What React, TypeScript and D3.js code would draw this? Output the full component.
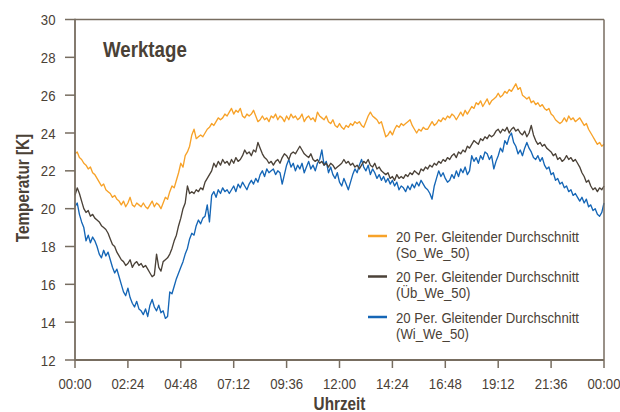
import * as d3 from 'd3'

// one value every 6 minutes, 00:00 .. 24:00 (241 points)
const stepMinutes = 6

const soWe50 = [
  22.9, 23.0, 22.7, 22.6, 22.4, 22.3, 22.1, 22.2, 21.9, 21.8,
  21.6, 21.4, 21.2, 21.3, 21.0, 20.9, 20.8, 20.6, 20.7, 20.5,
  20.4, 20.2, 20.4, 20.1, 20.3, 20.6, 20.2, 20.1, 20.3, 20.2,
  20.1, 20.3, 20.1, 20.0, 20.2, 20.4, 20.1, 20.3, 20.2, 20.0,
  20.3, 20.6, 20.5, 20.9, 21.2, 21.1, 21.5, 21.9, 22.4, 22.2,
  22.8, 23.0, 23.3, 23.9, 24.2, 23.7, 23.8, 23.9, 23.8, 24.0,
  24.2, 24.3, 24.5, 24.4, 24.6, 24.8, 24.7, 24.8, 25.0, 24.9,
  25.1, 25.3, 25.0, 25.2, 25.1, 25.3, 24.9, 24.8, 25.0, 24.9,
  25.0, 25.2, 24.9, 24.6, 24.7, 24.9, 24.7, 24.8, 24.6, 24.9,
  24.8, 25.0, 24.7, 24.9, 24.8, 24.6, 24.9, 24.7, 25.0, 24.8,
  24.9, 24.7, 24.8, 25.0, 24.6, 24.8, 24.9, 24.7, 24.8, 24.6,
  25.1, 24.9, 24.8, 24.7, 24.9, 24.6, 24.5, 24.7, 24.4, 24.3,
  24.5, 24.3, 24.2, 24.4, 24.3, 24.5, 24.4, 24.6, 24.5, 24.6,
  24.4, 24.3, 24.6, 24.9, 25.1, 24.9, 24.8, 24.7, 24.5, 24.6,
  24.2, 23.8, 23.9, 24.1, 23.9, 24.2, 24.4, 24.3, 24.5, 24.4,
  24.5, 24.6, 24.7, 24.4, 24.2, 24.0, 24.2, 24.1, 24.3, 24.2,
  24.2, 24.4, 24.6, 24.4, 24.5, 24.7, 24.6, 24.8, 24.7, 24.9,
  24.8, 25.0, 24.9, 24.7, 24.9, 25.1, 24.9, 25.2, 25.0, 25.2,
  25.4, 25.3, 25.6, 25.5, 25.7, 25.4, 25.6, 25.8, 25.5, 25.7,
  25.8, 25.9, 26.1, 25.9, 26.0, 26.2, 26.1, 26.3, 26.2, 26.4,
  26.6, 26.3, 26.4, 26.0, 25.9, 25.8, 25.9, 25.6, 25.7, 25.5,
  25.6, 25.4, 25.5, 25.3, 25.2, 25.3, 25.0, 24.9, 24.7, 24.6,
  24.5, 24.6, 24.8, 24.6, 24.9, 24.7, 24.8, 24.6, 24.7, 24.8,
  24.6, 24.4, 24.5, 24.2, 24.0, 23.8, 23.6, 23.4, 23.5, 23.3,
  23.4,
]

const ubWe50 = [
  20.7, 21.1, 20.8, 20.4, 20.0, 19.8, 19.9, 19.6, 19.7, 19.5,
  19.4, 19.3, 19.1, 19.0, 18.9, 18.7, 18.4, 18.1, 18.0, 17.7,
  17.5, 17.3, 17.2, 17.0, 17.1, 17.3, 16.9, 17.1, 17.2, 17.0,
  17.1, 16.9, 17.0, 16.8, 16.6, 16.4, 16.5, 17.6, 16.9, 16.7,
  17.2, 17.3, 17.4, 17.6, 17.9, 18.3, 18.6, 19.1, 19.5, 20.0,
  20.3, 21.2, 20.8, 20.9, 20.8, 21.0, 20.9, 21.1, 21.0, 21.4,
  21.6, 21.8, 22.0, 22.4, 22.2, 22.5, 22.3, 22.6, 22.4, 22.5,
  22.3, 22.6, 22.4, 22.7, 22.5, 22.6, 22.8, 23.1, 22.9, 23.0,
  22.8, 23.1, 23.0, 23.5, 23.2, 22.9, 22.7, 22.6, 22.4, 22.5,
  22.3, 22.5, 22.6, 22.4, 22.7, 22.9, 22.8, 22.6, 22.9, 23.0,
  22.9, 23.1, 23.3, 23.1, 22.9, 22.8, 22.7, 22.9, 22.6, 22.5,
  22.6, 22.4, 22.5, 22.3, 22.4, 22.2, 22.4, 22.3, 22.1, 22.2,
  22.3, 22.4, 22.6, 22.4, 22.5, 22.3, 22.4, 22.2, 22.3, 22.1,
  22.3, 22.5, 22.4, 22.6, 22.3, 22.2, 22.4, 22.1, 22.2, 22.0,
  21.9, 21.8, 21.9, 21.6, 21.7, 21.5, 21.8, 21.6, 21.7, 21.6,
  21.8, 21.7, 21.9, 21.8, 22.0, 21.9, 21.8, 22.1, 22.0, 22.2,
  22.1, 22.3, 22.2, 22.4, 22.3, 22.5, 22.4, 22.6, 22.5, 22.7,
  22.6, 22.8, 22.9, 22.7, 23.0, 22.9, 23.1, 23.0, 23.3, 23.2,
  23.4, 23.6, 23.5, 23.4, 23.7, 23.6, 23.8, 23.7, 23.9, 23.8,
  23.9, 24.1, 24.2, 24.0, 24.2, 24.1, 24.3, 24.0, 24.2, 24.3,
  24.1, 24.2, 24.0, 23.9, 24.1, 23.8, 24.0, 24.4, 23.9, 23.6,
  23.4, 23.5, 23.3, 23.4, 23.2, 23.1, 23.0, 22.8, 22.9, 22.6,
  22.7, 22.5, 22.6, 22.8, 22.6, 22.7, 22.5, 22.6, 22.4, 22.2,
  21.9, 21.7, 21.4, 21.5, 21.2, 21.0, 21.1, 20.9, 21.1, 21.0,
  21.2,
]

const wiWe50 = [
  20.1, 20.3, 19.7, 19.3, 19.0, 18.3, 18.6, 18.2, 18.5, 18.3,
  18.0, 17.6, 17.4, 17.8, 17.5, 17.7, 17.3, 16.9, 16.6, 16.8,
  16.4, 16.0, 15.6, 15.4, 15.8, 15.3, 15.0, 14.8, 15.1, 14.7,
  14.6, 14.4, 14.7, 14.3, 14.9, 15.2, 14.8, 14.6, 14.9, 14.5,
  14.6, 14.2, 14.3, 15.6, 15.5, 15.9, 16.3, 16.6, 16.9, 17.2,
  17.6, 17.9, 18.4, 18.7, 18.6, 19.1, 19.4, 19.2, 19.5, 19.6,
  20.2, 19.3, 20.7, 20.9, 20.6, 21.0, 20.8, 21.1, 20.9, 21.0,
  20.8, 21.0, 21.2, 20.9, 21.3, 21.1, 21.4, 21.2, 21.0, 21.3,
  21.5, 21.3, 21.6, 21.4, 21.8, 22.0, 21.7, 22.1, 21.9, 22.0,
  22.1, 21.8, 22.0, 21.9, 21.3, 21.8, 22.3, 22.6, 22.2, 22.4,
  22.0, 22.3, 22.1, 22.4, 21.9, 22.2, 22.5, 22.1, 22.3, 22.0,
  22.4, 22.6, 23.1, 22.3, 22.5, 21.9, 22.2, 21.8, 21.6, 21.9,
  21.4, 21.2, 21.6, 21.3, 21.0, 21.4, 21.8, 22.1, 21.9, 22.3,
  22.6, 22.2, 22.0, 22.3, 21.8, 22.1, 21.9, 21.6, 21.8, 21.5,
  21.7, 21.4, 21.6, 21.3, 21.5, 21.2, 21.4, 21.0, 21.2, 21.1,
  20.9, 21.2, 21.0, 21.3, 21.1, 21.4, 21.2, 21.5, 21.3, 21.1,
  21.0, 20.8, 20.5, 21.2, 21.6, 22.0, 21.7, 21.9, 21.6, 21.4,
  21.5, 21.8, 21.6, 22.0, 21.7, 22.1, 21.9, 22.2, 21.8, 22.0,
  22.8, 22.5, 22.7, 22.4, 22.8, 22.6, 23.0, 22.9, 22.6, 22.8,
  22.1, 22.5, 22.8, 23.2, 23.0, 23.6, 23.4, 23.8, 24.0, 23.5,
  23.3, 22.9, 23.1, 22.8, 23.2, 23.5, 23.2, 23.0, 22.7, 22.6,
  22.8, 22.5, 22.7, 22.3, 22.1, 22.2, 21.8, 21.9, 21.5, 21.6,
  21.3, 21.4, 21.1, 21.2, 20.9, 21.0, 20.7, 20.8, 20.6, 20.4,
  20.6, 20.3, 20.5, 20.1, 20.2, 19.9, 20.0, 19.7, 19.6, 19.8,
  20.3,
]

const xTickMinutes = [0, 144, 288, 432, 576, 720, 864, 1008, 1152, 1296, 1440]
const xTickLabels = ['00:00', '02:24', '04:48', '07:12', '09:36', '12:00', '14:24', '16:48', '19:12', '21:36', '00:00']
const yTicks = [12, 14, 16, 18, 20, 22, 24, 26, 28, 30]

const seriesNames = ['(So_We_50)', '(Üb_We_50)', '(Wi_We_50)']
const seriesColors = ['#f7a229', '#4b4238', '#1566b6']

const W = 620
const H = 412
const left = 75
const right = 604
const top = 19.5
const bottom = 360

// no condensed face installed -> squeeze Liberation Sans horizontally
const FONT = "'Liberation Sans', Arial, sans-serif"
const SQUEEZE = 0.85
const TEXT = '#4a4136'
const AXIS = '#776d60'

type TProps = {
  x: number
  y: number
  size: number
  anchor?: 'start' | 'middle' | 'end'
  bold?: boolean
  rotate?: boolean
  dy?: string
  children: React.ReactNode
}

function Txt({ x, y, size, anchor = 'start', bold, rotate, dy, children }: TProps) {
  return (
    <text
      transform={`translate(${x},${y})${rotate ? ' rotate(-90)' : ''} scale(${SQUEEZE},1)`}
      textAnchor={anchor}
      fontSize={size}
      fontWeight={bold ? 'bold' : 'normal'}
      dy={dy}
      fill={TEXT}
    >
      {children}
    </text>
  )
}

export default function App() {
  const x = d3.scaleLinear().domain([0, 1440]).range([left, right])
  const y = d3.scaleLinear().domain([12, 30]).range([bottom, top])

  const line = d3.line<number>()
    .x((_, i) => x(i * stepMinutes))
    .y(d => y(d))

  const allSeries = [soWe50, ubWe50, wiWe50]
  const legendTop = 236

  return (
    <svg width={W} height={H} style={{ position: 'absolute', left: 0, top: 0, background: '#fff' }} fontFamily={FONT}>
      {/* series, back to front: blue, dark, orange */}
      {[2, 1, 0].map(k => (
        <path key={k} d={line(allSeries[k]) || ''} fill="none" stroke={seriesColors[k]} strokeWidth={1.35} strokeLinejoin="round" />
      ))}

      {/* frame */}
      <line x1={left} x2={right} y1={top} y2={top} stroke={AXIS} strokeWidth={1.5} />
      <line x1={right} x2={right} y1={top} y2={bottom} stroke={AXIS} strokeWidth={1.5} />
      <line x1={left} x2={left} y1={top - 0.75} y2={bottom + 0.75} stroke={AXIS} strokeWidth={1.8} />
      <line x1={left} x2={right} y1={bottom} y2={bottom} stroke={AXIS} strokeWidth={1.8} />

      {/* y axis */}
      {yTicks.map(t => (
        <g key={t}>
          <line x1={left - 10} x2={left} y1={y(t)} y2={y(t)} stroke={AXIS} strokeWidth={1.5} />
          <Txt x={55.5} y={y(t)} dy="0.36em" anchor="end" size={15.5}>{t}</Txt>
        </g>
      ))}

      {/* x axis */}
      {xTickMinutes.map((m, i) => (
        <g key={i}>
          <line x1={x(m)} x2={x(m)} y1={bottom} y2={bottom + 8} stroke={AXIS} strokeWidth={1.5} />
          <Txt x={x(m)} y={389} anchor="middle" size={15.5}>{xTickLabels[i]}</Txt>
        </g>
      ))}

      <Txt x={(left + right) / 2} y={410} anchor="middle" size={18} bold>Uhrzeit</Txt>
      <Txt x={29} y={188} anchor="middle" size={18} bold rotate>Temperatur [K]</Txt>

      <Txt x={103} y={57} size={22} bold>Werktage</Txt>

      {/* legend */}
      {seriesNames.map((name, i) => {
        const ly = legendTop + i * 40.5
        return (
          <g key={name}>
            <line x1={368} x2={387} y1={ly} y2={ly} stroke={seriesColors[i]} strokeWidth={2.5} />
            <Txt x={396} y={ly + 5.5} size={15.5}>20 Per. Gleitender Durchschnitt</Txt>
            <Txt x={396} y={ly + 21.5} size={15.5}>{name}</Txt>
          </g>
        )
      })}
    </svg>
  )
}
